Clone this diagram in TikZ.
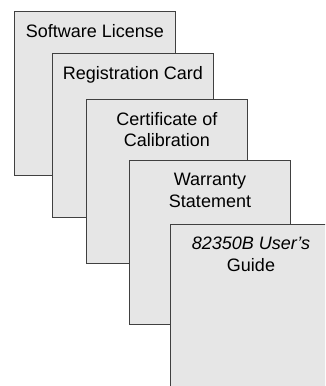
\documentclass[tikz,border=0pt]{standalone}
\usepackage{fontspec}
\setmainfont{Liberation Sans}
\usepackage{tikz}
\usetikzlibrary{positioning}
\definecolor{sheetfill}{HTML}{E6E6E6}
\definecolor{sheetline}{HTML}{404040}
\tikzstyle{sheet} = [draw=sheetline,fill=sheetfill,line width=1pt,anchor=north west,minimum width=161pt,minimum height=164pt,inner sep=0pt]
\tikzstyle{title} = [anchor=north,inner sep=0pt,align=center,font=\fontsize{18}{21.5}\selectfont]

\begin{document}
\begin{tikzpicture}[x=1pt,y=-1pt]
	\useasboundingbox (0,0) rectangle (325,386);
	\clip (0,0) rectangle (325,386);
	
	% Sheets, back to front:
	\node [sheet] (license) at (14,11) {};
	\node [title, below=13pt of license.north] {Software License};
	
	\node [sheet] (regcard) at (52,53) {};
	\node [title, below=13pt of regcard.north] {Registration Card};
	
	\node [sheet] (calib) at (86,99) {};
	\node [title, below=13pt of calib.north] {Certificate of\\Calibration};
	
	\node [sheet] (warranty) at (129,160) {};
	\node [title, below=13pt of warranty.north] {Warranty\\Statement};
	
	\node [sheet] (guide) at (170,224) {};
	\node [title, below=13pt of guide.north] {\itshape 82350B User's\\Guide};
\end{tikzpicture}
\end{document}
